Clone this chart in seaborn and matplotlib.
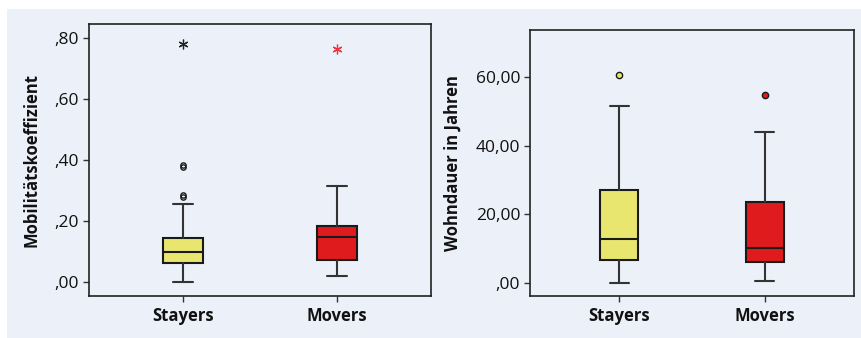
import numpy as np
import matplotlib
matplotlib.use('agg')
import matplotlib.pyplot as plt
import seaborn as sns
from matplotlib.patches import Rectangle
from matplotlib.ticker import FuncFormatter


# --- data (box plot summaries)

groups = ["Stayers", "Movers"]
box_colors = ["#E8E66F", "#E01B1D"]

# Mobilitaetskoeffizient
mob_whislo = [0.000, 0.020]
mob_q1 = [0.061, 0.071]
mob_med = [0.097, 0.148]
mob_q3 = [0.143, 0.184]
mob_whishi = [0.254, 0.314]
mob_outliers = [[0.376, 0.382, 0.279, 0.285], []]
mob_extremes = [[0.780], [0.762]]

# Wohndauer in Jahren
wohn_whislo = [0.1, 0.6]
wohn_q1 = [6.8, 6.0]
wohn_med = [12.9, 10.1]
wohn_q3 = [27.0, 23.6]
wohn_whishi = [51.7, 44.0]
wohn_outliers = [[60.8], [54.8]]
wohn_extremes = [[], []]


def de_fmt(v, pos):
    s = "%.2f" % v
    s = s.replace(".", ",")
    if s.startswith("0,"):
        s = s[1:]
    if s.startswith("-0,"):
        s = "-" + s[2:]
    return s


def build_stats(lo, q1, med, q3, hi, outl):
    stats = []
    for i in range(len(groups)):
        stats.append(dict(whislo=lo[i], q1=q1[i], med=med[i], q3=q3[i],
                          whishi=hi[i], fliers=np.array(outl[i]), label=groups[i]))
    return stats


bg = "#ECF0F9"
edge = "#1a1a1a"

sns.set_theme(style="white")
plt.rcParams['font.family'] = ['Open Sans', 'DejaVu Sans']

fig = plt.figure(figsize=(8.62, 3.38), dpi=100)
fig.patch.set_facecolor("white")
fig.patches.append(Rectangle((7 / 862, 0), 1, 1 - 9 / 338, transform=fig.transFigure,
                             facecolor=bg, edgecolor="none", zorder=-10))

ax1 = fig.add_axes([89 / 862, 1 - 296 / 338, (431 - 89) / 862, (296 - 24.3) / 338])
ax2 = fig.add_axes([530 / 862, 1 - 296 / 338, (854 - 530) / 862, (296 - 30) / 338])


def draw_panel(ax, stats, extremes, filled_fliers, ylim, yticks, ylabel):
    ax.set_facecolor(bg)
    res = ax.bxp(stats, positions=[0, 1], widths=0.26, capwidths=0.13,
                 patch_artist=True, showfliers=True,
                 boxprops=dict(edgecolor=edge, linewidth=1.5),
                 medianprops=dict(color=edge, linewidth=1.5),
                 whiskerprops=dict(color="#333333", linewidth=1.5),
                 capprops=dict(color="#333333", linewidth=1.5))
    for i, patch in enumerate(res['boxes']):
        patch.set_facecolor(box_colors[i])
    for i, fl in enumerate(res['fliers']):
        fl.set_marker('o')
        fl.set_markeredgecolor(edge)
        fl.set_markeredgewidth(1.0)
        if filled_fliers:
            fl.set_markerfacecolor(box_colors[i])
            fl.set_markersize(4.5)
        else:
            fl.set_markerfacecolor("none")
            fl.set_markersize(3.8)
    ext_colors = ["#222222", "#E8343A"]
    for i, ev in enumerate(extremes):
        if len(ev):
            ax.plot([i] * len(ev), ev, linestyle="none", marker=(6, 2, 0),
                    markersize=7, markeredgewidth=0.9, color=ext_colors[i])
    ax.set_xlim(-0.615, 1.615)
    ax.set_ylim(*ylim)
    ax.set_yticks(yticks)
    ax.yaxis.set_major_formatter(FuncFormatter(de_fmt))
    ax.set_xticks([0, 1])
    ax.set_xticklabels(groups, fontsize=12, fontweight="bold", color="#111111")
    ax.set_ylabel(ylabel, fontsize=12, fontweight="bold", labelpad=10, color="#111111")
    ax.tick_params(axis='y', labelsize=12.5, length=4, width=1, direction="out",
                   left=True, color="#333333", labelcolor="#111111", pad=3)
    ax.tick_params(axis='x', length=4, width=1, direction="out", bottom=True,
                   color="#333333", pad=4)
    for s in ['top', 'bottom', 'left', 'right']:
        ax.spines[s].set_linewidth(1.2)
        ax.spines[s].set_color("#222222")
    ax.grid(False)


draw_panel(ax1, build_stats(mob_whislo, mob_q1, mob_med, mob_q3, mob_whishi, mob_outliers),
           mob_extremes, False, (-0.046, 0.844), [0, 0.2, 0.4, 0.6, 0.8],
           "Mobilitätskoeffizient")
draw_panel(ax2, build_stats(wohn_whislo, wohn_q1, wohn_med, wohn_q3, wohn_whishi, wohn_outliers),
           wohn_extremes, True, (-3.8, 73.8), [0, 20, 40, 60],
           "Wohndauer in Jahren")

fig.savefig("out.png", dpi=100)
